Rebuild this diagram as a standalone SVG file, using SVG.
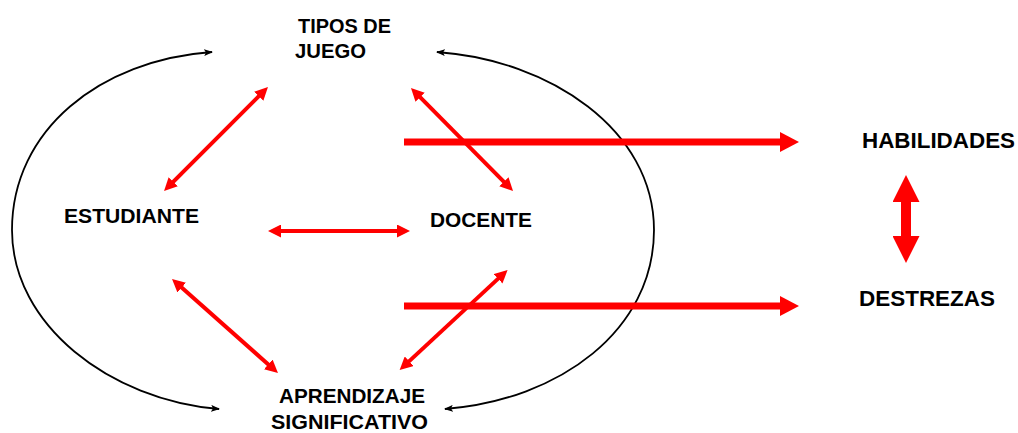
<svg xmlns="http://www.w3.org/2000/svg" width="1018" height="433" viewBox="0 0 1018 433">
<style>
  .lbl { font-family: "Liberation Sans", Arial, sans-serif; font-weight: bold; font-size: 21px; fill: #000; }
  .big { font-size: 22px; }
  .arc { fill: none; stroke: #000; stroke-width: 1.8; marker-start: url(#blk); marker-end: url(#blk); }
  .thin { stroke: #FF0000; stroke-width: 4; marker-start: url(#rs); marker-end: url(#rs); }
  .thick { stroke: #FF0000; stroke-width: 7; marker-end: url(#rt); }
  .vert { stroke: #FF0000; stroke-width: 10; marker-start: url(#rv); marker-end: url(#rv); }
</style>
<defs>
  <marker id="blk" markerUnits="userSpaceOnUse" viewBox="0 0 9 7" markerWidth="9" markerHeight="7" refX="8" refY="3.5" orient="auto-start-reverse">
    <path d="M0,0 L9,3.5 L0,7 L2,3.5 z" fill="#000"/>
  </marker>
  <marker id="rs" markerUnits="userSpaceOnUse" viewBox="0 0 13 13" markerWidth="13" markerHeight="13" refX="5" refY="6.5" orient="auto-start-reverse">
    <path d="M0,0 L13,6.5 L0,13 z" fill="#FF0000"/>
  </marker>
  <marker id="rt" markerUnits="userSpaceOnUse" viewBox="0 0 19 20" markerWidth="19" markerHeight="20" refX="7" refY="10" orient="auto">
    <path d="M0,0 L19,10 L0,20 z" fill="#FF0000"/>
  </marker>
  <marker id="rv" markerUnits="userSpaceOnUse" viewBox="0 0 27 27" markerWidth="27" markerHeight="27" refX="12" refY="13.5" orient="auto-start-reverse">
    <path d="M0,0 L27,13.5 L0,27 z" fill="#FF0000"/>
  </marker>
</defs>

<g id="connectors">
  <path class="arc" d="M212,52 C100,60 12,130 12,230 C12,325 110,400 219,409"/>
  <path class="arc" d="M437,52 C550,60 654,130 654,230 C654,330 560,400 445,409"/>
  <line class="thin" x1="262.3" y1="92.7" x2="169.7" y2="185.3"/>
  <line class="thin" x1="416.6" y1="93.7" x2="507.4" y2="185.3"/>
  <line class="thin" x1="276" y1="231" x2="402" y2="231"/>
  <line class="thin" x1="178" y1="284.3" x2="272" y2="367.7"/>
  <line class="thin" x1="501.7" y1="275.4" x2="405.5" y2="364.6"/>
  <line class="thick" x1="404" y1="142" x2="787" y2="142"/>
  <line class="thick" x1="404" y1="306" x2="787" y2="306"/>
  <line class="vert" x1="906" y1="190" x2="906" y2="248"/>
</g>

<g id="tipos-de-juego">
  <text class="lbl" x="298" y="33" textLength="93" lengthAdjust="spacingAndGlyphs">TIPOS DE</text>
  <text class="lbl" x="295" y="58" textLength="71" lengthAdjust="spacingAndGlyphs">JUEGO</text>
</g>
<g id="estudiante">
  <text class="lbl" x="64" y="223" textLength="135" lengthAdjust="spacingAndGlyphs">ESTUDIANTE</text>
</g>
<g id="docente">
  <text class="lbl" x="430" y="227" textLength="102" lengthAdjust="spacingAndGlyphs">DOCENTE</text>
</g>
<g id="aprendizaje-significativo">
  <text class="lbl" x="279" y="403" textLength="146" lengthAdjust="spacingAndGlyphs">APRENDIZAJE</text>
  <text class="lbl" x="271" y="429" textLength="157" lengthAdjust="spacingAndGlyphs">SIGNIFICATIVO</text>
</g>
<g id="habilidades">
  <text class="lbl big" x="862" y="148" textLength="153" lengthAdjust="spacingAndGlyphs">HABILIDADES</text>
</g>
<g id="destrezas">
  <text class="lbl big" x="859" y="306" textLength="136" lengthAdjust="spacingAndGlyphs">DESTREZAS</text>
</g>
</svg>
